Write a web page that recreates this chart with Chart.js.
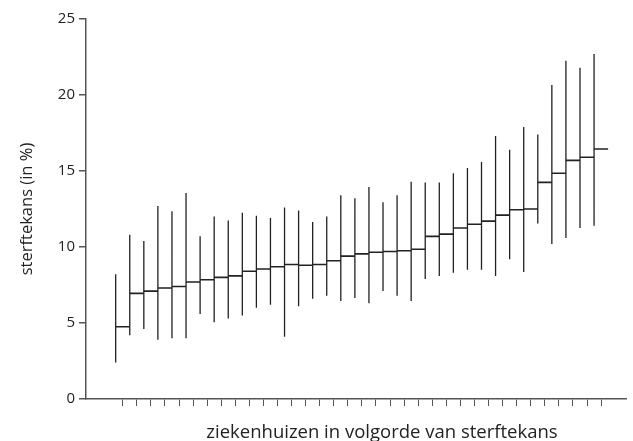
<!DOCTYPE html>
<html>
<head>
<meta charset="utf-8">
<script src="https://cdn.jsdelivr.net/npm/chart.js@4"></script>
<style>
  html, body { margin: 0; padding: 0; background: #fff; }
  #wrap { width: 633px; height: 441px; }
</style>
</head>
<body>
<div id="wrap"><canvas id="mortalityChart" width="633" height="441"></canvas></div>
<script>
// sterftekans per ziekenhuis (in %), gesorteerd
const estimate = [4.75, 6.95, 7.1, 7.3, 7.4, 7.7, 7.85, 8.0, 8.1, 8.4, 8.55, 8.7, 8.85, 8.8, 8.85,
  9.1, 9.4, 9.55, 9.65, 9.7, 9.75, 9.85, 10.7, 10.85, 11.25, 11.5, 11.7, 12.1, 12.45, 12.5,
  14.25, 14.85, 15.7, 15.9, 16.45];
const lower = [2.4, 4.2, 4.6, 3.9, 4.0, 4.0, 5.6, 5.05, 5.3, 5.5, 6.0, 6.2, 4.1, 6.1, 6.6,
  6.8, 6.45, 6.65, 6.3, 7.1, 6.8, 6.45, 7.9, 8.1, 8.3, 8.5, 8.5, 8.1, 9.2, 8.35,
  11.55, 10.2, 10.6, 11.25, 11.4];
const upper = [8.2, 10.8, 10.4, 12.7, 12.35, 13.55, 10.7, 12.0, 11.75, 12.25, 12.05, 11.9, 12.6, 12.4, 11.65,
  12.0, 13.4, 13.2, 13.95, 12.95, 13.4, 14.3, 14.25, 14.25, 14.85, 15.2, 15.6, 17.3, 16.4, 17.9,
  17.4, 20.65, 22.25, 21.8, 22.7];
const yTicks = [0, 5, 10, 15, 20, 25];
const yTitle = 'sterftekans (in %)';
const xTitle = 'ziekenhuizen in volgorde van sterftekans';

const lineColor = '#222';
const axisColor = '#555';

// vertical interval lines, broken with nulls
const intervalPoints = [];
lower.forEach((lo, i) => {
  intervalPoints.push({ x: i, y: lo }, { x: i, y: upper[i] }, { x: i, y: null });
});
// horizontal step for each estimate
const estimatePoints = [];
estimate.forEach((v, i) => {
  estimatePoints.push({ x: i, y: v }, { x: i + 1, y: v }, { x: i + 1, y: null });
});

// x title sits a bit right of the axis centre in the original
const xTitlePlugin = {
  id: 'xTitlePlugin',
  afterDraw(chart) {
    const ctx = chart.ctx;
    ctx.save();
    ctx.font = '18.5px "Open Sans"';
    ctx.fillStyle = lineColor;
    ctx.textAlign = 'center';
    ctx.textBaseline = 'alphabetic';
    ctx.fillText(xTitle, 382, 438);
    ctx.restore();
  }
};

new Chart(document.getElementById('mortalityChart').getContext('2d'), {
  type: 'scatter',
  data: {
    datasets: [
      {
        label: 'interval',
        data: intervalPoints,
        showLine: true,
        spanGaps: false,
        borderColor: lineColor,
        borderWidth: 1.3,
        pointRadius: 0
      },
      {
        label: 'sterftekans',
        data: estimatePoints,
        showLine: true,
        spanGaps: false,
        borderColor: lineColor,
        borderWidth: 1.6,
        pointRadius: 0
      }
    ]
  },
  options: {
    responsive: false,
    animation: false,
    layout: { padding: { top: 19, right: 7, left: 0, bottom: 0 } },
    plugins: {
      legend: { display: false },
      tooltip: { enabled: false }
    },
    scales: {
      x: {
        type: 'linear',
        min: -2.11,
        max: 36.27,
        afterBuildTicks: scale => {
          scale.ticks = estimate.map((v, i) => ({ value: i + 0.5 }));
        },
        afterFit: scale => { scale.height = 42; },
        ticks: { callback: () => '', autoSkip: false, maxRotation: 0 },
        grid: { drawOnChartArea: false, drawTicks: true, tickLength: 7, color: axisColor, lineWidth: 1 },
        border: { display: true, color: axisColor, width: 1.5 }
      },
      y: {
        min: 0,
        max: 25,
        afterBuildTicks: scale => {
          scale.ticks = yTicks.map(v => ({ value: v }));
        },
        afterFit: scale => { scale.width = 86; },
        ticks: {
          color: lineColor,
          padding: 4,
          font: { family: 'Open Sans', size: 15 }
        },
        grid: { drawOnChartArea: false, drawTicks: true, tickLength: 7, color: axisColor, lineWidth: 1.5 },
        border: { display: true, color: axisColor, width: 1.5 },
        title: {
          display: true,
          text: yTitle,
          color: lineColor,
          font: { family: 'Open Sans', size: 16.5 },
          padding: { top: 17, bottom: 0 }
        }
      }
    }
  },
  plugins: [xTitlePlugin]
});
</script>
</body>
</html>
